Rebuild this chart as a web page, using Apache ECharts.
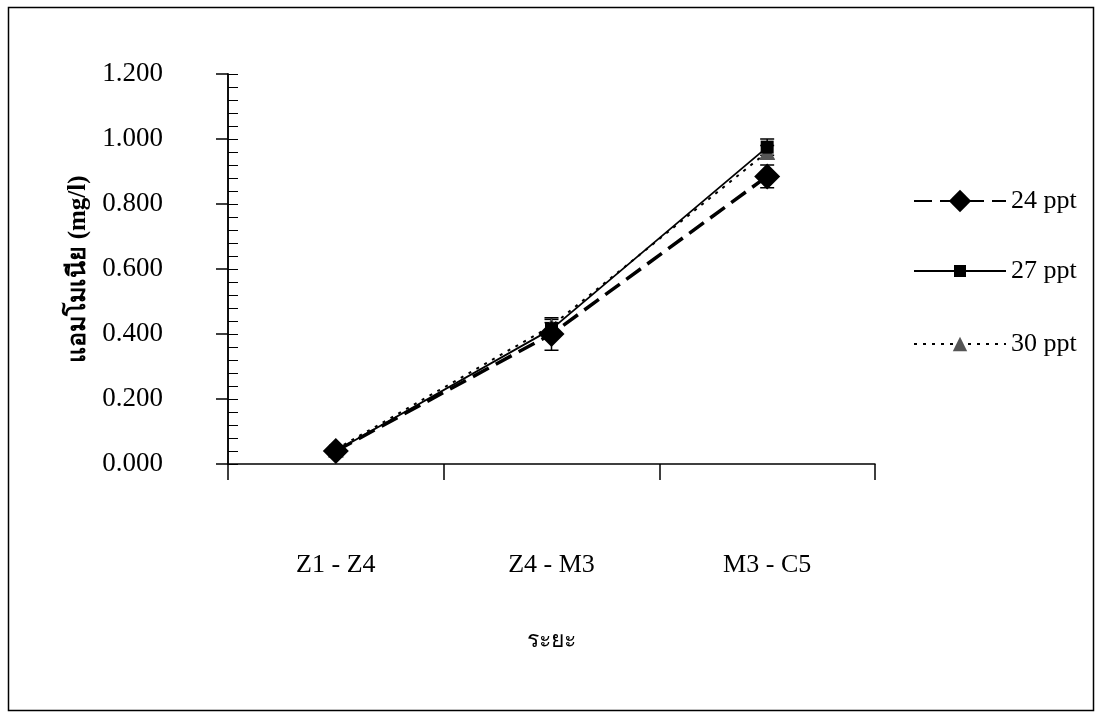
<!DOCTYPE html>
<html>
<head>
<meta charset="utf-8">
<script src="https://cdn.jsdelivr.net/npm/echarts@6/dist/echarts.min.js"></script>
<style>
html,body{margin:0;padding:0;background:#fff;}
#chart{width:1096px;height:712px;}
</style>
</head>
<body>
<div id="chart"></div>
<script>
const categories = ['Z1 - Z4', 'Z4 - M3', 'M3 - C5'];
const seriesNames = ['24 ppt', '27 ppt', '30 ppt'];
const s24 = [0.040, 0.400, 0.885];
const s27 = [0.040, 0.415, 0.975];
const s30 = [0.045, 0.425, 0.960];
const err24 = [0.010, 0.050, 0.035];
const err27 = [0.010, 0.020, 0.025];
const err30 = [0.010, 0.020, 0.020];
const yTicks = ['0.000', '0.200', '0.400', '0.600', '0.800', '1.000', '1.200'];

const FONT = '"Liberation Serif", "Times New Roman", serif';

function errData(vals, errs) {
  return vals.map((v, i) => [i, v - errs[i], v + errs[i]]);
}
function errSeries(vals, errs, z) {
  return {
    type: 'custom',
    z: z,
    silent: true,
    data: errData(vals, errs),
    renderItem: function (params, api) {
      const x = api.value(0);
      const lo = api.coord([x, api.value(1)]);
      const hi = api.coord([x, api.value(2)]);
      const w = 7;
      const st = {stroke: '#000', lineWidth: 1.5};
      return {
        type: 'group',
        children: [
          {type: 'line', shape: {x1: lo[0], y1: lo[1], x2: hi[0], y2: hi[1]}, style: st},
          {type: 'line', shape: {x1: lo[0] - w, y1: lo[1], x2: lo[0] + w, y2: lo[1]}, style: st},
          {type: 'line', shape: {x1: hi[0] - w, y1: hi[1], x2: hi[0] + w, y2: hi[1]}, style: st}
        ]
      };
    }
  };
}

function legendFor(name, top, h) {
  return {
    orient: 'vertical',
    left: 908,
    top: top,
    itemWidth: 92,
    itemHeight: h,
    data: [name],
    textStyle: {fontFamily: FONT, fontSize: 26, color: '#000'}
  };
}

const chart = echarts.init(document.getElementById('chart'));
chart.setOption({
  backgroundColor: '#fff',
  animation: false,
  textStyle: {fontFamily: FONT, color: '#000'},
  graphic: [{
    type: 'rect', left: 6, top: 5,
    shape: {x: 0, y: 0, width: 1085, height: 703},
    style: {fill: 'none', stroke: '#000', lineWidth: 1.5},
    silent: true, z: -10
  }],
  grid: {left: 228, right: 221, top: 74, bottom: 248},
  legend: [
    legendFor('24 ppt', 183, 28),
    legendFor('27 ppt', 253, 15),
    legendFor('30 ppt', 326, 18)
  ],
  xAxis: {
    type: 'category',
    data: categories,
    boundaryGap: true,
    name: 'ระยะ',
    nameLocation: 'middle',
    nameGap: 165,
    nameTextStyle: {fontFamily: FONT, fontSize: 23, color: '#000'},
    axisLine: {lineStyle: {color: '#000', width: 1.5}},
    axisTick: {show: true, length: 16, lineStyle: {color: '#000', width: 1.5}},
    axisLabel: {margin: 88, fontSize: 26, fontFamily: FONT, color: '#000'},
    splitLine: {show: false}
  },
  yAxis: [{
    type: 'value',
    min: 0, max: 1.2, interval: 0.2,
    name: 'แอมโมเนีย (mg/l)',
    nameLocation: 'middle',
    nameGap: 136,
    nameRotate: 90,
    nameTextStyle: {fontFamily: FONT, fontSize: 25, color: '#000', fontWeight: 'bold'},
    axisLine: {show: true, lineStyle: {color: '#000', width: 1.5}},
    axisTick: {show: true, length: 12, lineStyle: {color: '#000', width: 1.5}},
    axisLabel: {
      margin: 65, fontSize: 27, fontFamily: FONT, color: '#000',
      formatter: function (v) { return yTicks[Math.round(v / 0.2)]; }
    },
    splitLine: {show: false}
  }, {
    type: 'value',
    min: 0, max: 1.2, interval: 0.04,
    position: 'left',
    axisLine: {show: true, lineStyle: {color: '#000', width: 1.5}},
    axisTick: {show: true, inside: true, length: 10, lineStyle: {color: '#000', width: 1}},
    axisLabel: {show: false},
    splitLine: {show: false}
  }],
  series: [
    errSeries(s30, err30, 2),
    errSeries(s27, err27, 2),
    errSeries(s24, err24, 2),
    {
      name: '30 ppt', type: 'line', data: s30, yAxisIndex: 0, z: 3,
      symbol: 'triangle', symbolSize: 16,
      itemStyle: {color: '#555'},
      lineStyle: {color: '#000', width: 2, type: [3, 6]}
    },
    {
      name: '27 ppt', type: 'line', data: s27, yAxisIndex: 0, z: 4,
      symbol: 'rect', symbolSize: 13,
      itemStyle: {color: '#000'},
      lineStyle: {color: '#000', width: 1.8, type: 'solid'}
    },
    {
      name: '24 ppt', type: 'line', data: s24, yAxisIndex: 0, z: 5,
      symbol: 'diamond', symbolSize: 26,
      itemStyle: {color: '#000'},
      lineStyle: {color: '#000', width: 3.5, type: [18, 8]}
    }
  ]
});
</script>
</body>
</html>
